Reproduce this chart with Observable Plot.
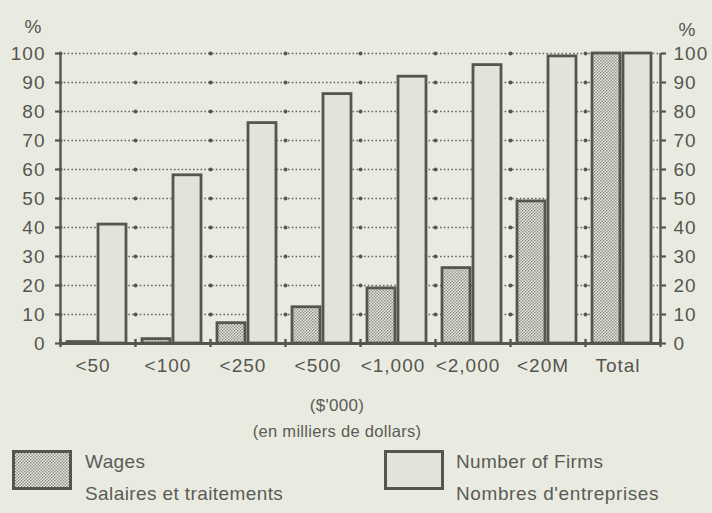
<!DOCTYPE html>
<html><head><meta charset="utf-8">
<script src="https://cdn.jsdelivr.net/npm/d3@7"></script>
<script src="https://cdn.jsdelivr.net/npm/@observablehq/plot@0.6"></script>
<style>
html,body{margin:0;padding:0;background:#e9ebe1;}
#wrap{position:relative;width:712px;height:513px;overflow:hidden;font-family:"Liberation Sans",Arial,Helvetica,sans-serif;color:#5b5b56;}
.t{position:absolute;white-space:nowrap;line-height:1;}
.sw{position:absolute;}
</style></head><body>
<div id="wrap">
<div id="chart"></div>
<div class="t" id="xt1" style="left:0;width:674px;top:397px;text-align:center;font-size:17px;letter-spacing:0.3px"></div>
<div class="t" id="xt2" style="left:0;width:674px;top:423px;text-align:center;font-size:16.5px;letter-spacing:0.3px"></div>
<svg class="sw" style="left:12px;top:450px" width="60" height="40" id="sw1"></svg>
<div class="t" id="l1a" style="left:85px;top:452px;font-size:19px;letter-spacing:0.4px"></div>
<div class="t" id="l1b" style="left:85px;top:484px;font-size:19px;letter-spacing:0.4px"></div>
<svg class="sw" style="left:384px;top:450px" width="60" height="40" id="sw2"></svg>
<div class="t" id="l2a" style="left:456px;top:452px;font-size:19px;letter-spacing:0.4px"></div>
<div class="t" id="l2b" style="left:456px;top:484px;font-size:19px;letter-spacing:0.6px"></div>
</div>
<script>
// ---- data ----
const categories = ["<50", "<100", "<250", "<500", "<1,000", "<2,000", "<20M", "Total"];
const wages = [0.5, 1.5, 7, 12.5, 19, 26, 49, 100];
const firms = [41, 58, 76, 86, 92, 96, 99, 100];
const yTicks = [0, 10, 20, 30, 40, 50, 60, 70, 80, 90, 100];
const unitLabel = "%";
const xTitle1 = "($'000)";
const xTitle2 = "(en milliers de dollars)";
const legendWages = ["Wages", "Salaires et traitements"];
const legendFirms = ["Number of Firms", "Nombres d'entreprises"];

const ink = "#56564f";
const firmFill = "#e0e4d9";
const STIPPLE = "#010203";

const wageRows = categories.map((c, i) => ({c, v: wages[i]}));
const firmRows = categories.map((c, i) => ({c, v: firms[i]}));
const gridNodes = categories.flatMap(c => yTicks.slice(1).map(t => ({c, t})));
const half = 37.5;

const chart = Plot.plot({
  width: 712,
  height: 390,
  marginTop: 53,
  marginBottom: 47,
  marginLeft: 60,
  marginRight: 52,
  x: {domain: categories, padding: 0},
  y: {domain: [0, 100]},
  style: {background: "transparent", color: ink, fontFamily: "'Liberation Sans', Arial, sans-serif", fontSize: "19px", letterSpacing: "1px"},
  marks: [
    Plot.ruleY(yTicks.slice(1), {stroke: "#5f5f5a", strokeWidth: 1.6, strokeDasharray: "1.5,2.3"}),
    Plot.dot(gridNodes, {x: "c", y: "t", dx: -half, r: 2, fill: ink, stroke: null}),
    Plot.barY(wageRows, {x: "c", y: "v", insetLeft: 7, insetRight: 40, fill: STIPPLE, stroke: ink, strokeWidth: 2.8}),
    Plot.barY(firmRows, {x: "c", y: "v", insetLeft: 38, insetRight: 9, fill: firmFill, stroke: ink, strokeWidth: 2.8}),
    Plot.ruleY([0], {stroke: ink, strokeWidth: 2.8}),
    Plot.ruleX([categories[0]], {x: d => d, dx: -half, y1: 0, y2: 100, stroke: ink, strokeWidth: 2.4}),
    Plot.ruleX([categories[categories.length - 1]], {x: d => d, dx: half, y1: 0, y2: 100, stroke: ink, strokeWidth: 2.4}),
    Plot.ruleX(categories, {x: d => d, dx: -half, y1: -1.4, y2: 1.4, stroke: ink, strokeWidth: 2.4}),
    Plot.ruleX([categories[categories.length - 1]], {x: d => d, dx: half, y1: -1.4, y2: 1.4, stroke: ink, strokeWidth: 2.4}),
    Plot.axisY({anchor: "left", ticks: yTicks, tickSize: 5, tickPadding: 10, label: null, stroke: ink, strokeWidth: 2.2}),
    Plot.axisY({anchor: "right", ticks: yTicks, tickSize: 5, tickPadding: 8, label: null, stroke: ink, strokeWidth: 2.2}),
    Plot.axisX({anchor: "bottom", tickSize: 0, tickPadding: 15, dx: -5, label: null}),
    Plot.text([unitLabel], {frameAnchor: "top-left", dx: -36, dy: -34, fontSize: 19}),
    Plot.text([unitLabel], {frameAnchor: "top-right", dx: 36, dy: -31, fontSize: 19})
  ]
});

function addPattern(svg) {
  const ns = "http://www.w3.org/2000/svg";
  const defs = document.createElementNS(ns, "defs");
  defs.innerHTML = '<pattern id="stipple" width="3" height="3" patternUnits="userSpaceOnUse">' +
    '<rect width="3" height="3" fill="#e6e9de"/>' +
    '<rect x="0" y="0" width="1.4" height="1.4" fill="#888882"/>' +
    '<rect x="1.5" y="1.5" width="1.4" height="1.4" fill="#888882"/></pattern>';
  svg.insertBefore(defs, svg.firstChild);
}
addPattern(chart);
chart.querySelectorAll('[fill="' + STIPPLE + '"]').forEach(el => el.setAttribute("fill", "url(#stipple)"));
document.getElementById("chart").appendChild(chart);

document.getElementById("xt1").textContent = xTitle1;
document.getElementById("xt2").textContent = xTitle2;
document.getElementById("l1a").textContent = legendWages[0];
document.getElementById("l1b").textContent = legendWages[1];
document.getElementById("l2a").textContent = legendFirms[0];
document.getElementById("l2b").textContent = legendFirms[1];

const sw1 = document.getElementById("sw1");
addPattern(sw1);
sw1.insertAdjacentHTML("beforeend", '<rect x="1.5" y="1.5" width="57" height="37" fill="url(#stipple)" stroke="' + ink + '" stroke-width="3"/>');
const sw2 = document.getElementById("sw2");
sw2.innerHTML = '<rect x="1.5" y="1.5" width="57" height="37" fill="' + firmFill + '" stroke="' + ink + '" stroke-width="3"/>';
</script>
</body></html>
